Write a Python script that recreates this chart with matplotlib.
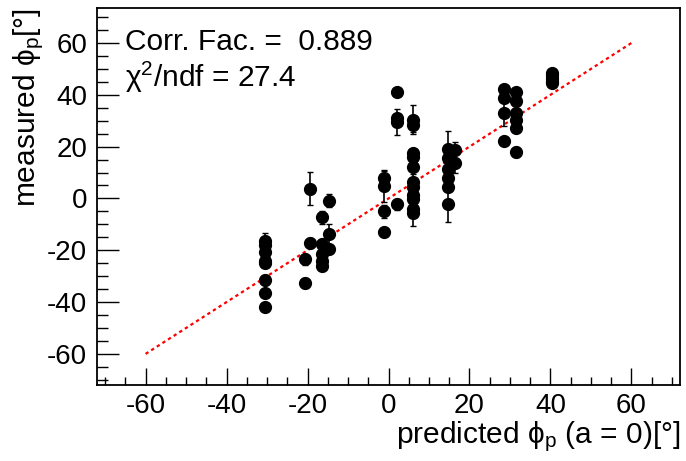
import numpy as np
import matplotlib
matplotlib.use('Agg')
import matplotlib.pyplot as plt
from matplotlib.ticker import MultipleLocator

plt.rcParams['font.family'] = ['Liberation Sans', 'DejaVu Sans']
plt.rcParams['mathtext.fontset'] = 'custom'
plt.rcParams['mathtext.rm'] = 'Liberation Sans'
plt.rcParams['mathtext.it'] = 'Liberation Sans'
plt.rcParams['axes.unicode_minus'] = False

# predicted phi_p, measured phi_p, error on measured
x_pred = [-30.6, -30.6, -30.6, -30.6, -30.6, -30.6, -30.6, -30.6,
          -20.7, -20.7, -19.3, -19.3,
          -16.5, -16.5, -16.5, -16.5, -16.5,
          -14.8, -14.8, -14.8,
          -1.0, -1.0, -1.0, -1.0,
          2.0, 2.0, 2.0, 2.0,
          6.0, 6.0, 6.0, 6.0, 6.0, 6.0, 6.0, 6.0, 6.0, 6.0, 6.0,
          14.8, 14.8, 14.8, 14.8, 14.8, 14.8,
          16.3, 16.3,
          28.6, 28.6, 28.6, 28.6,
          31.4, 31.4, 31.4, 31.4, 31.4, 31.4,
          40.5, 40.5, 40.5, 40.5, 40.5]
y_meas = [-16.5, -18.0, -20.8, -24.2, -25.0, -31.5, -36.5, -42.0,
          -23.5, -32.7, 3.8, -17.3,
          -7.3, -17.7, -21.5, -24.0, -26.0,
          -0.8, -13.8, -19.6,
          8.0, 4.7, -5.0, -13.0,
          41.0, 31.0, 29.6, -2.3,
          30.4, 28.5, 17.7, 16.0, 12.0, 6.5, 4.6, 1.5, -0.4, -4.2, -5.5,
          19.2, 15.8, 11.5, 8.0, 4.6, -2.0,
          18.8, 13.8,
          42.3, 38.8, 33.0, 22.3,
          41.0, 37.7, 33.0, 30.4, 27.3, 18.0,
          44.6, 45.5, 46.5, 47.5, 48.5]
y_err = [3.0, 1.0, 1.0, 1.0, 1.0, 2.0, 1.0, 1.5,
         2.0, 2.0, 6.5, 2.0,
         2.5, 2.0, 1.5, 2.0, 1.5,
         2.5, 4.0, 1.5,
         3.0, 6.0, 2.5, 1.0,
         1.0, 1.0, 5.0, 2.0,
         5.5, 3.0, 1.0, 1.0, 1.5, 3.0, 2.0, 2.0, 2.0, 2.0, 5.0,
         7.0, 1.5, 1.5, 1.5, 1.5, 7.0,
         3.0, 4.0,
         1.5, 1.0, 5.0, 1.0,
         1.5, 1.0, 1.0, 1.5, 1.0, 2.0,
         1.0, 1.0, 1.0, 1.0, 1.0]

corr_fac = 0.889
chi2_ndf = 27.4

fig = plt.figure(figsize=(6.86, 4.61), dpi=100)
ax = fig.add_axes([0.1414, 0.1649, 0.8499, 0.8177])

ax.plot([-60, 60], [-60, 60], color='red', ls=(0, (1.5, 1.5)), lw=1.6, zorder=1)
ax.errorbar(x_pred, y_meas, yerr=y_err, fmt='o', color='black', ms=8.5,
            elinewidth=1.2, capsize=2, capthick=1, zorder=2)

ax.set_xlim(-72, 72)
ax.set_ylim(-72, 73.5)
ax.xaxis.set_major_locator(MultipleLocator(20))
ax.xaxis.set_minor_locator(MultipleLocator(5))
ax.yaxis.set_major_locator(MultipleLocator(20))
ax.yaxis.set_minor_locator(MultipleLocator(5))
ax.tick_params(which='both', direction='in', top=False, right=False,
               labelsize=20, width=1)
ax.tick_params(axis='y', which='major', length=16, pad=7)
ax.tick_params(axis='y', which='minor', length=8)
ax.tick_params(axis='x', which='major', length=12, pad=6)
ax.tick_params(axis='x', which='minor', length=6)
for s in ax.spines.values():
    s.set_linewidth(1.3)

ax.text(0.048, 0.91, 'Corr. Fac. =  %.3f' % corr_fac, transform=ax.transAxes,
        fontsize=21.5, va='center', ha='left')
ax.text(0.048, 0.817, 'χ$^{2}$/ndf = %.1f' % chi2_ndf, transform=ax.transAxes,
        fontsize=21.5, va='center', ha='left')

ax.set_xlabel('predicted ϕ$_{\\mathregular{p}}$ (a = 0)[°]', fontsize=21.5,
              loc='right', labelpad=0)
ax.set_ylabel('measured ϕ$_{\\mathregular{p}}$[°]', fontsize=21.5,
              loc='top', labelpad=1)

fig.savefig('out.png', dpi=100)
